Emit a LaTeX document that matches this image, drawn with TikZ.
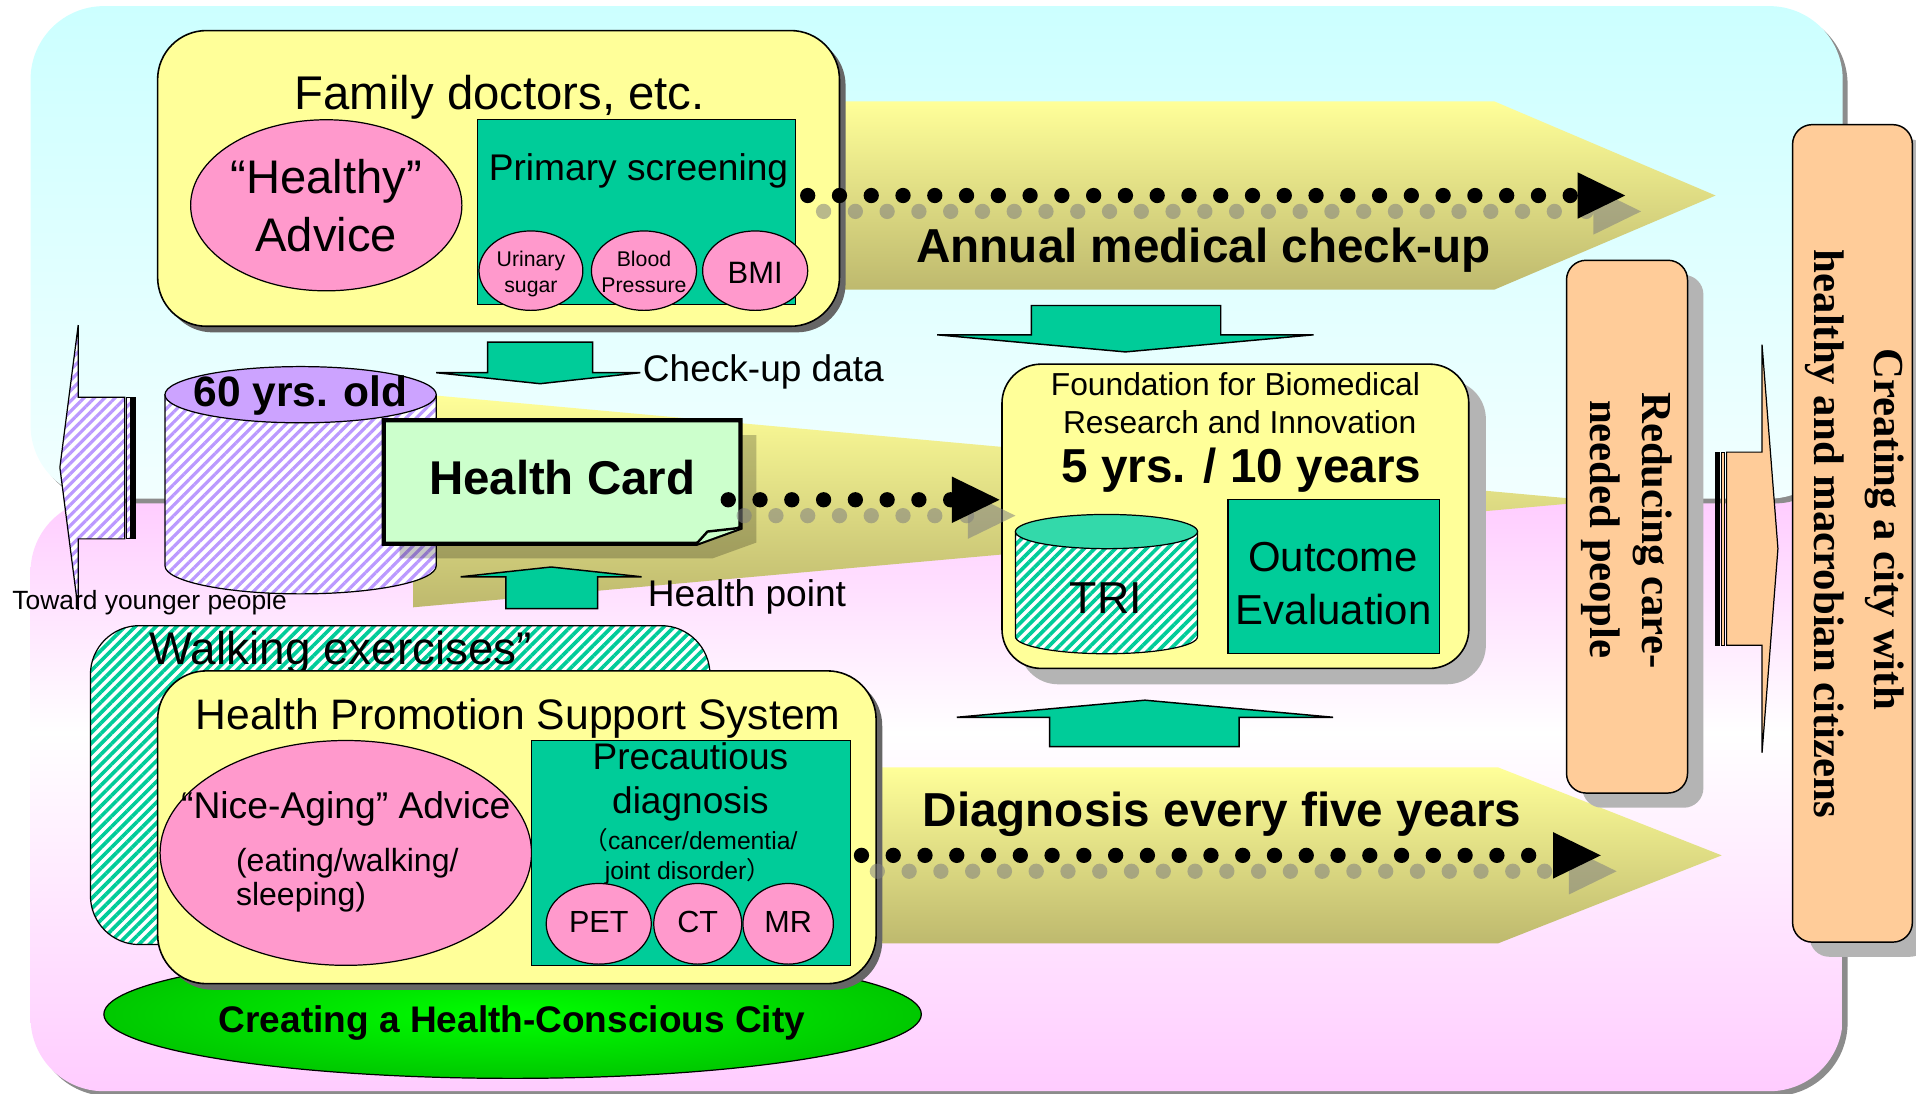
\documentclass[tikz,border=0pt]{standalone}
\usepackage{fontspec}
\setmainfont{Liberation Sans}
\newfontfamily\serifbf{Liberation Serif}
\newfontfamily\cjkfont{Noto Sans CJK JP}
\usetikzlibrary{shapes.geometric,patterns.meta}
\newcommand\setfs[1]{\fontsize{#1pt}{#1pt}\selectfont}
\definecolor{yel}{HTML}{FFFF99}
\definecolor{tealc}{HTML}{00CC99}
\definecolor{tricap}{HTML}{33D9AA}
\definecolor{pinkc}{HTML}{FF99CC}
\definecolor{lav}{HTML}{CCA3FF}
\definecolor{lavline}{HTML}{BB99FF}
\definecolor{card}{HTML}{CCFFCC}
\definecolor{orng}{HTML}{FFCC99}
\definecolor{cyanbg}{HTML}{CCFFFF}
\definecolor{cyanlow}{HTML}{F2FFFF}
\definecolor{pinkbg}{HTML}{FFCCFF}
\definecolor{arrtop}{HTML}{FFFF99}
\definecolor{arrbot}{HTML}{BEB96E}
\definecolor{grnin}{HTML}{00FF00}
\definecolor{grnout}{HTML}{00C800}
\definecolor{shgray}{HTML}{B4B4B4}
\definecolor{shc}{HTML}{808080}
\begin{document}
\begin{tikzpicture}[x=1pt,y=-1pt,
  txt/.style={inner sep=0pt, anchor=base},
  yelbox/.style={draw, line width=1.3pt, fill=yel, rounded corners=40pt, inner sep=0pt},
  pinkell/.style={ellipse, draw, line width=1pt, fill=pinkc, inner sep=0pt},
  tealbox/.style={draw, line width=1pt, fill=tealc, inner sep=0pt},
  orbox/.style={draw, line width=1.2pt, fill=orng, rounded corners=16pt, inner sep=0pt},
  tealarrow/.style={draw, line width=1.2pt, fill=tealc},
  dotline/.style={line width=12.5pt, line cap=round, dash pattern=on 0pt off 26pt},
  shdot/.style={dotline, draw=shc, draw opacity=0.55},
  lavpat/.style={preaction={fill=white}, pattern={Lines[angle=45,distance=6pt,line width=2.6pt]}, pattern color=lavline},
  tealpat/.style={preaction={fill=white}, pattern={Lines[angle=45,distance=6pt,line width=3pt]}, pattern color=tealc},
]
\useasboundingbox (0,0) rectangle (1568,895);

% ---------- background panels
\fill[black!45, rounded corners=60pt] (29,412) rectangle (1512,897);
\begin{scope}
  \clip[rounded corners=60pt] (25,408) rectangle (1508,893);
  \shade[top color=pinkbg, bottom color=white] (25,408) rectangle (1508,600);
  \shade[top color=white, bottom color=pinkbg] (25,599) rectangle (1508,893);
\end{scope}
\fill[black!45, rounded corners=60pt] (29,9) rectangle (1512,412);
\shade[top color=cyanbg, bottom color=cyanlow, rounded corners=60pt] (25,5) rectangle (1508,408);

% ---------- big yellow arrows
\shade[top color=arrtop, bottom color=arrbot] (650,83) -- (1223,83) -- (1404,160) -- (1223,237) -- (650,237) -- cycle;
\shade[top color=arrtop, bottom color=arrbot] (338,322) -- (1308,410) -- (338,497) -- cycle;
\shade[top color=arrtop, bottom color=arrbot] (700,628) -- (1226,628) -- (1409,700) -- (1226,772) -- (700,772) -- cycle;
\node[txt, font=\bfseries\setfs{39}] (tannual) at (985,215) {Annual medical check-up};
\node[txt, font=\bfseries\setfs{39}] (tdiag) at (1000,676) {Diagnosis every five years};

% ---------- family doctors
\fill[black!60, rounded corners=40pt] (134,30) rectangle (692,272);
\node[yelbox, minimum width=558pt, minimum height=242pt] (fam) at (408,146) {};
\node[txt, font=\setfs{38.7}] (tfam) at (409,90) {Family doctors, etc.};
\node[pinkell, minimum width=222pt, minimum height=140pt] (healthy) at (267,168) {};
\node[txt, font=\setfs{38.6}] (th1) at (267,158) {“Healthy”};
\node[txt, font=\setfs{38.6}] (th2) at (267,206) {Advice};
\node[tealbox, minimum width=260pt, minimum height=151pt] (prim) at (521,173.5) {};
\node[txt, font=\setfs{30.4}] (tprim) at (522.5,147.5) {Primary screening};
\node[pinkell, minimum width=85pt, minimum height=65pt] (uri) at (434.5,221.5) {};
\node[pinkell, minimum width=86pt, minimum height=65pt] (bp) at (527,221.5) {};
\node[pinkell, minimum width=86pt, minimum height=65pt] (bmi) at (618,221.5) {};
\node[txt, font=\setfs{17.4}] (tu1) at (434.5,218) {Urinary};
\node[txt, font=\setfs{17.4}] (tu2) at (434.5,239) {sugar};
\node[txt, font=\setfs{17.4}] (tb1) at (527,218) {Blood};
\node[txt, font=\setfs{17.4}] (tb2) at (527,239.5) {Pressure};
\node[txt, font=\setfs{25.3}] (tbmi) at (618,232) {BMI};

% ---------- check-up data arrow / health point arrow
\path[tealarrow] (399,280) -- (485,280) -- (485,305) -- (524,305) -- (442,314) -- (357,305) -- (399,305) -- cycle;
\node[txt, anchor=base west, font=\setfs{30.3}] (tcud) at (526,312.5) {Check-up data};
\path[tealarrow] (414,498) -- (414,472) -- (377,472) -- (451,464) -- (525,472) -- (489,472) -- (489,498) -- cycle;
\node[txt, anchor=base west, font=\setfs{30.4}] (thp) at (530,496) {Health point};

% ---------- left arrow (toward younger people)
\path[draw, line width=1pt, lavpat] (102,325) -- (64,325) -- (64,266) -- (49,382.5) -- (64,499) -- (64,441) -- (102,441) -- cycle;
\path[draw, line width=1pt, lavpat] (103.5,325) rectangle (106.5,441);
\path[draw, line width=1pt, fill=black] (108,325) rectangle (111,441);
\node[txt, anchor=base west, font=\setfs{21.6}] (tyoung) at (10,499) {Toward younger people};

% ---------- 60 yrs cylinder
\path[draw, line width=1pt, lavpat] (135,323) -- (357,323) -- (357,463) arc[start angle=0, end angle=180, x radius=111, y radius=23] -- cycle;
\node[ellipse, draw, line width=1pt, fill=lav, minimum width=222pt, minimum height=46pt, inner sep=0pt] (cyl60) at (246,323) {};
\node[txt, font=\bfseries\setfs{34.8}] (t60) at (246,333) {60 yrs. old};

% ---------- health card
\fill[black, opacity=0.22] (327,356) -- (619,356) -- (619,444) -- (583,457) -- (327,457) -- cycle;
\draw[line width=3.5pt, fill=card] (314,344) -- (606,344) -- (606,432) -- (570,445) -- (314,445) -- cycle;
\draw[line width=2pt, fill=card] (570,445) -- (579,435) -- (606,432);
\node[txt, font=\bfseries\setfs{38.8}] (thc) at (460,405) {Health Card};

% ---------- green ellipse
\node[ellipse, draw, line width=1pt, inner color=grnin, outer color=grnout, minimum width=669pt, minimum height=105pt] (city) at (419.5,830) {};

% ---------- walking exercises
\node[draw, line width=1pt, tealpat, rounded corners=40pt, minimum width=507pt, minimum height=261pt, inner sep=0pt] (walk) at (327.5,642.5) {};
\node[txt, anchor=base west, font=\setfs{37.5}] (twalk) at (122,544) {Walking exercises”};

% ---------- health promotion support system
\fill[black!60, rounded corners=40pt] (134,554) rectangle (722,810);
\node[yelbox, minimum width=588pt, minimum height=256pt] (hpss) at (423,677) {};
\node[txt, font=\setfs{34.9}] (thpss) at (424,597) {Health Promotion Support System};
\node[pinkell, minimum width=304pt, minimum height=184pt] (nice) at (283,698) {};
\node[txt, font=\setfs{30.5}] (tn1) at (283,670) {“Nice-Aging” Advice};
\node[txt, anchor=base west, font=\setfs{26.2}] (tn2) at (193,713) {(eating/walking/};
\node[txt, anchor=base west, font=\setfs{26.2}] (tn3) at (193,741) {sleeping)};
\node[tealbox, minimum width=261pt, minimum height=184pt] (prec) at (565.5,698) {};
\node[txt, font=\setfs{30.3}] (tp1) at (565,630) {Precautious};
\node[txt, font=\setfs{30.3}] (tp2) at (565,666) {diagnosis};
\node[txt, font=\setfs{20.2}] (tp3) at (565,695) {{\cjkfont （}cancer/dementia/};
\node[txt, font=\setfs{20.2}] (tp4) at (563,719.5) {joint disorder{\cjkfont ）}};
\node[pinkell, minimum width=86pt, minimum height=66pt] (pet) at (490,756) {};
\node[pinkell, minimum width=72pt, minimum height=66pt] (ct) at (571,756) {};
\node[pinkell, minimum width=74pt, minimum height=66pt] (mr) at (645,756) {};
\node[txt, font=\setfs{25}] (tpet) at (490,763) {PET};
\node[txt, font=\setfs{25}] (tct) at (571,763) {CT};
\node[txt, font=\setfs{25}] (tmr) at (645,763) {MR};
\node[txt, font=\bfseries\setfs{30.3}] (tcity) at (419,845) {Creating a Health-Conscious City};

% ---------- foundation
\fill[shgray, rounded corners=32pt] (834,311) rectangle (1216,560);
\node[yelbox, rounded corners=32pt, minimum width=382pt, minimum height=249pt] (found) at (1011,422.5) {};
\node[txt, font=\setfs{26}] (tf1) at (1011,323.5) {Foundation for Biomedical};
\node[txt, font=\setfs{26}] (tf2) at (1014.5,355) {Research and Innovation};
\node[txt, font=\bfseries\setfs{39}] (tf3) at (1016,394.5) {5 yrs. / 10 years};
\path[draw, line width=1pt, tealpat] (831,435) -- (980,435) -- (980,521) arc[start angle=0, end angle=180, x radius=74.5, y radius=14] -- cycle;
\node[ellipse, draw, line width=1pt, fill=tricap, minimum width=149pt, minimum height=28pt, inner sep=0pt] (tri) at (905.5,435) {};
\node[txt, font=\setfs{36.6}] (ttri) at (905,502) {TRI};
\node[tealbox, minimum width=173pt, minimum height=126pt] (outc) at (1091.5,472) {};
\node[txt, font=\setfs{34.3}] (to1) at (1091,468) {Outcome};
\node[txt, font=\setfs{34.3}] (to2) at (1091.5,511) {Evaluation};

% ---------- big teal arrows
\path[tealarrow] (844,250) -- (999,250) -- (999,274) -- (1075,274) -- (921,288) -- (767,274) -- (844,274) -- cycle;
\path[tealarrow] (859,611) -- (859,587) -- (783,587) -- (937,573) -- (1091,587) -- (1014,587) -- (1014,611) -- cycle;

% ---------- dotted arrows
\coordinate (u1) at (661,160); \coordinate (u2) at (1291,160);
\coordinate (h1) at (596,409); \coordinate (h2) at (779,409);
\coordinate (d1) at (705,700); \coordinate (d2) at (1271,700);
\foreach \a/\b in {u1/u2, h1/h2, d1/d2}{
  \draw[shdot] ([shift={(13,13)}]\a) -- ([shift={(13,13)}]\b);
  \fill[shc, opacity=0.55] ([shift={(13,-6)}]\b) -- ([shift={(52,13)}]\b) -- ([shift={(13,32)}]\b) -- cycle;
  \draw[dotline] (\a) -- (\b);
  \fill ([shift={(0,-19)}]\b) -- ([shift={(39,0)}]\b) -- ([shift={(0,19)}]\b) -- cycle;
}

% ---------- orange boxes
\fill[shgray, rounded corners=16pt] (1295,225) rectangle (1394,661);
\node[orbox, minimum width=99pt, minimum height=436pt] (reduce) at (1331.5,431) {};
\node[txt, rotate=-90, font=\serifbf\bfseries\setfs{35}] (tr1) at (1344,434) {Reducing care-};
\node[txt, rotate=-90, font=\serifbf\bfseries\setfs{35}] (tr2) at (1302,433) {needed people};

\fill[shgray, rounded corners=16pt] (1481,114) rectangle (1579,783);
\node[orbox, minimum width=98pt, minimum height=669pt] (tall) at (1516,436.5) {};
\node[txt, rotate=-90, font=\serifbf\bfseries\setfs{35}] (tc1) at (1534,433) {Creating a city with};
\node[txt, rotate=-90, font=\serifbf\bfseries\setfs{35}] (tc2) at (1485,437) {healthy and macrobian citizens};

% ---------- right thin arrow
\path[draw, line width=1pt, fill=orng] (1413,370) -- (1442,370) -- (1442,282) -- (1455,449) -- (1442,616) -- (1442,528) -- (1413,528) -- cycle;
\path[draw, line width=1pt, fill=black] (1404,370) rectangle (1407,528);
\path[draw, line width=1pt, fill=orng] (1408.5,370) rectangle (1411.5,528);

\end{tikzpicture}
\end{document}
